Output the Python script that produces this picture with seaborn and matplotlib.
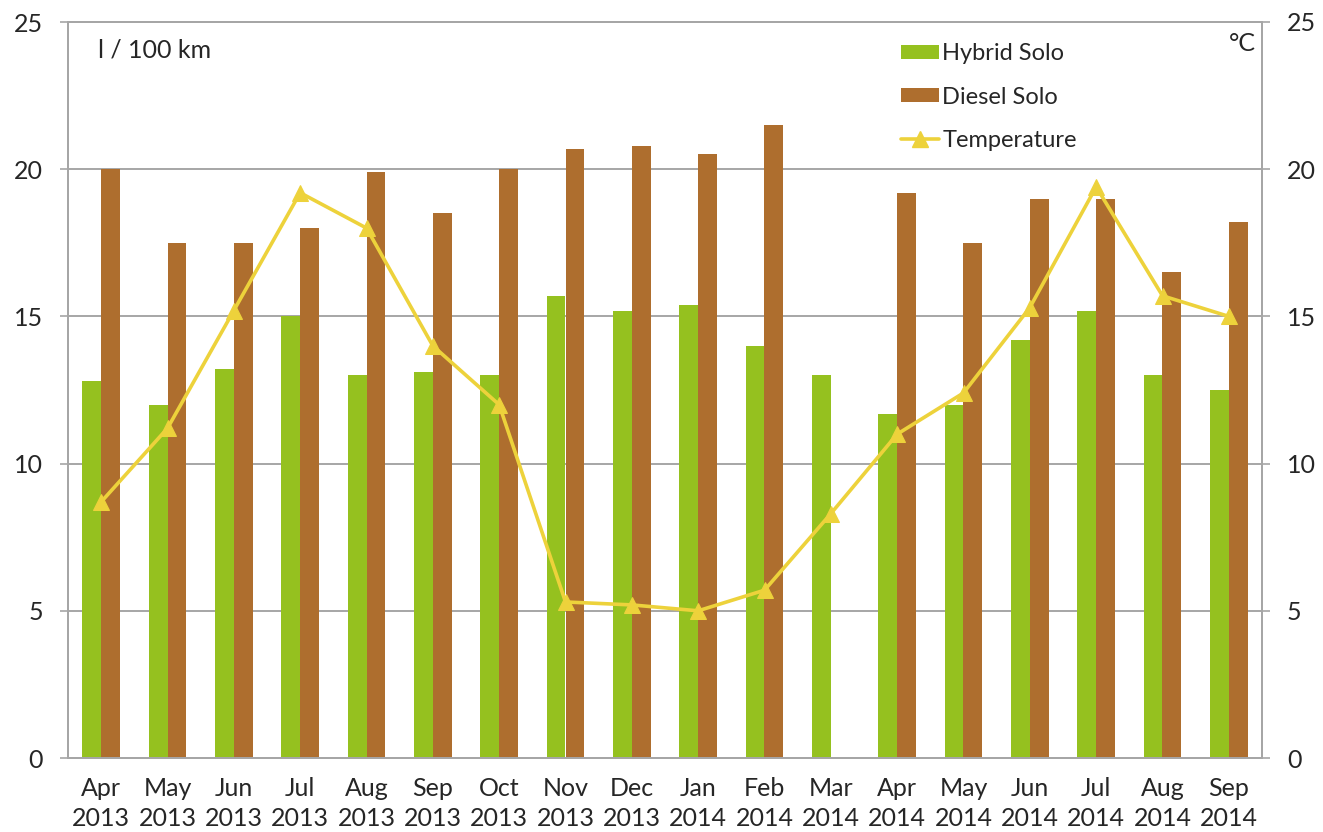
import numpy as np
import pandas as pd
import matplotlib
matplotlib.use("Agg")
import matplotlib.pyplot as plt
import seaborn as sns
from matplotlib.lines import Line2D
from matplotlib.patches import Patch

months = ["Apr\n2013", "May\n2013", "Jun\n2013", "Jul\n2013", "Aug\n2013", "Sep\n2013",
          "Oct\n2013", "Nov\n2013", "Dec\n2013", "Jan\n2014", "Feb\n2014", "Mar\n2014",
          "Apr\n2014", "May\n2014", "Jun\n2014", "Jul\n2014", "Aug\n2014", "Sep\n2014"]
hybrid_solo = [12.8, 12.0, 13.2, 15.0, 13.0, 13.1, 13.0, 15.7, 15.2, 15.4, 14.0, 13.0,
               11.7, 12.0, 14.2, 15.2, 13.0, 12.5]
diesel_solo = [20.0, 17.5, 17.5, 18.0, 19.9, 18.5, 20.0, 20.7, 20.8, 20.5, 21.5, np.nan,
               19.2, 17.5, 19.0, 19.0, 16.5, 18.2]
temperature = [8.7, 11.2, 15.2, 19.2, 18.0, 14.0, 12.0, 5.3, 5.2, 5.0, 5.7, 8.3,
               11.0, 12.4, 15.3, 19.4, 15.7, 15.0]
y_ticks = [0, 5, 10, 15, 20, 25]

GREEN = "#95C11F"
BROWN = "#AE6E2E"
YELLOW = "#EDD23B"
GRID = "#A6A6A6"
FS = 18

sns.set_theme(style="white")
plt.rcParams["font.family"] = ["Lato", "DejaVu Sans"]

df = pd.DataFrame({
    "month": months * 2,
    "value": hybrid_solo + diesel_solo,
    "series": ["Hybrid Solo"] * len(months) + ["Diesel Solo"] * len(months),
})

fig = plt.figure(figsize=(13.23, 8.32), dpi=100)
ax = fig.add_axes([68 / 1323, 74 / 832, 1194 / 1323, 736 / 832])

sns.barplot(data=df, x="month", y="value", hue="series", order=months,
            hue_order=["Hybrid Solo", "Diesel Solo"],
            palette=[GREEN, BROWN], width=0.57, gap=0, saturation=1,
            edgecolor="none", linewidth=0, legend=False, ax=ax, zorder=2)

ax.set_ylim(0, 25)
ax.set_xlim(-0.5, len(months) - 0.5)
ax.set_yticks(y_ticks)
ax.set_xlabel("")
ax.set_ylabel("")
for y in y_ticks[1:]:
    ax.axhline(y, color=GRID, lw=1.4, zorder=0)

ax.tick_params(axis="y", labelsize=FS, length=6, width=1.2, color=GRID,
               left=True, direction="out", pad=12)
ax.set_xticks(range(len(months)))
ax.set_xticklabels(months, fontsize=FS, linespacing=1.33)
ax.tick_params(axis="x", length=0, pad=14)
# category boundary ticks on the x axis
ax.set_xticks(np.arange(-0.5, len(months)), minor=True)
ax.tick_params(axis="x", which="minor", length=7, width=1.2, color=GRID, direction="out")

for side in ["left", "right", "bottom", "top"]:
    ax.spines[side].set_color(GRID)
    ax.spines[side].set_linewidth(1.4)

ax2 = ax.twinx()
sns.lineplot(x=np.arange(len(months)), y=temperature, color=YELLOW, lw=2.6,
             marker="^", markersize=11, markeredgecolor=YELLOW, ax=ax2, zorder=3)
ax2.set_ylim(0, 25)
ax2.set_yticks(y_ticks)
ax2.tick_params(axis="y", labelsize=FS, length=6, width=1.2, color=GRID,
                right=True, direction="out", pad=12)
for side in ["left", "right", "bottom", "top"]:
    ax2.spines[side].set_color(GRID)
    ax2.spines[side].set_linewidth(1.4)
ax2.grid(False)

ax.text(0.025, 0.978, "l / 100 km", transform=ax.transAxes, fontsize=FS,
        ha="left", va="top")
ax2.text(0.995, 0.987, "°C", transform=ax.transAxes, fontsize=FS,
         ha="right", va="top")

handles = [
    Patch(facecolor=GREEN, edgecolor="none"),
    Patch(facecolor=BROWN, edgecolor="none"),
    Line2D([0], [0], color=YELLOW, lw=2.6, marker="^", markersize=11),
]
leg = ax2.legend(handles, ["Hybrid Solo", "Diesel Solo", "Temperature"],
                 loc="upper left", bbox_to_anchor=(0.68, 1.0), frameon=False,
                 fontsize=17, handlelength=1.6, handleheight=0.55,
                 handletextpad=0.15, labelspacing=0.95)

fig.savefig("out.png", dpi=100)
